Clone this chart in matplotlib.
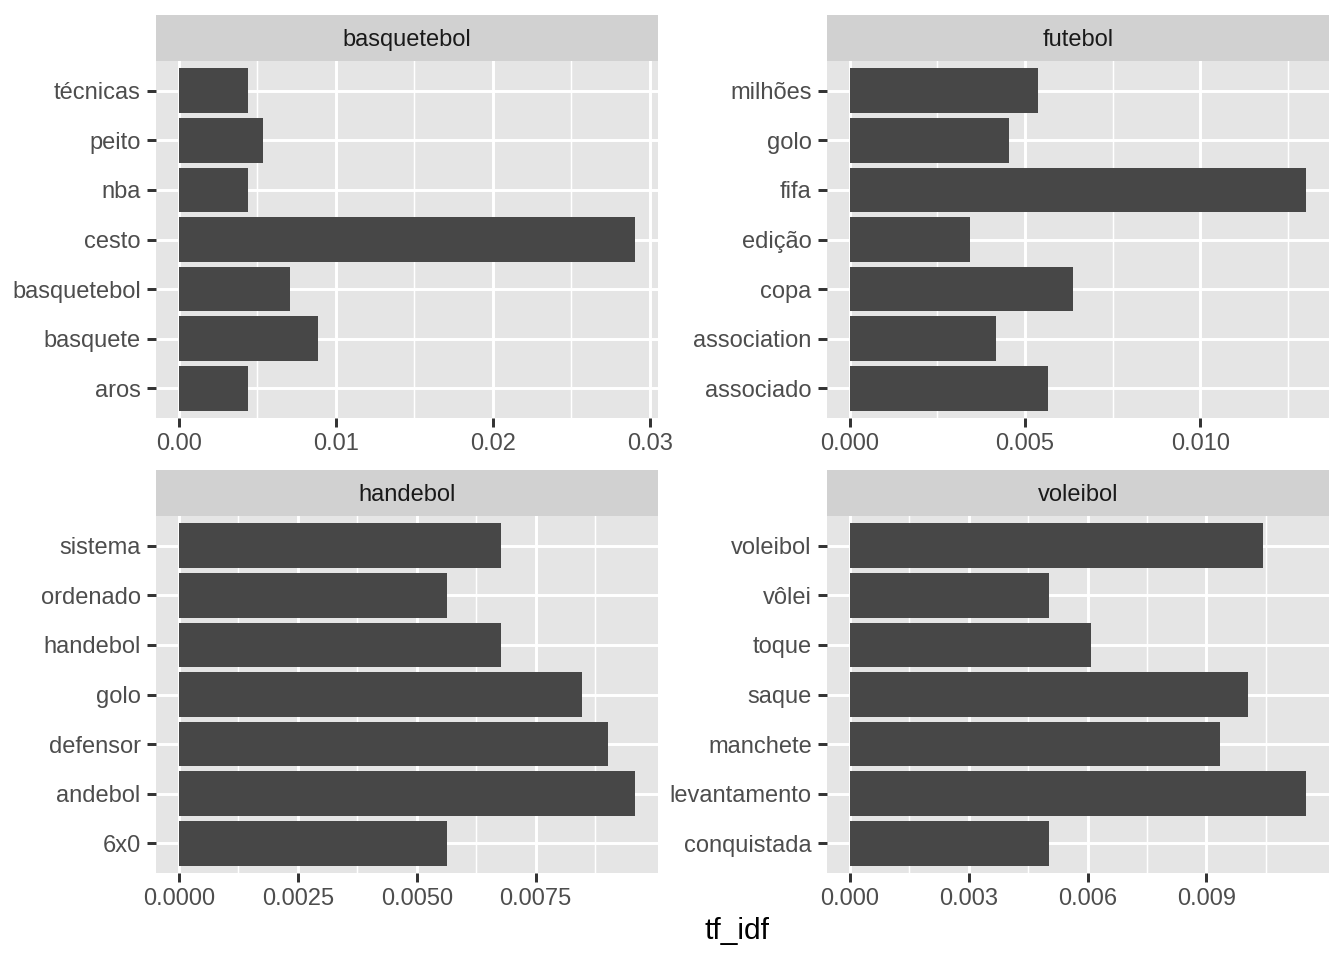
import matplotlib
matplotlib.use("Agg")
import matplotlib.pyplot as plt
import numpy as np

plt.rcParams['font.family'] = ['Liberation Sans', 'DejaVu Sans']

facets = ["basquetebol", "futebol", "handebol", "voleibol"]

basq_words = ["aros", "basquete", "basquetebol", "cesto", "nba", "peito", "técnicas"]
basq_vals = [0.00440, 0.00885, 0.00707, 0.02904, 0.00440, 0.00535, 0.00440]

fut_words = ["associado", "association", "copa", "edição", "fifa", "golo", "milhões"]
fut_vals = [0.00564, 0.00416, 0.00638, 0.00342, 0.01302, 0.00453, 0.00538]

hand_words = ["6x0", "andebol", "defensor", "golo", "handebol", "ordenado", "sistema"]
hand_vals = [0.00563, 0.00958, 0.00901, 0.00847, 0.00676, 0.00563, 0.00676]

vol_words = ["conquistada", "levantamento", "manchete", "saque", "toque", "vôlei", "voleibol"]
vol_vals = [0.00504, 0.01152, 0.00935, 0.01006, 0.00610, 0.00504, 0.01044]

basq_ticks = [0.0, 0.01, 0.02, 0.03]
basq_labels = ["0.00", "0.01", "0.02", "0.03"]
fut_ticks = [0.0, 0.005, 0.010]
fut_labels = ["0.000", "0.005", "0.010"]
hand_ticks = [0.0, 0.0025, 0.005, 0.0075]
hand_labels = ["0.0000", "0.0025", "0.0050", "0.0075"]
vol_ticks = [0.0, 0.003, 0.006, 0.009]
vol_labels = ["0.000", "0.003", "0.006", "0.009"]

x_title = "tf_idf"

W, H = 1344, 960
fig = plt.figure(figsize=(W / 200, H / 200), dpi=200)

left_x = (156 / W, 657.5 / W)
right_x = (827 / W, 1329 / W)
top_y = (1 - 418 / H, 1 - 61 / H, 1 - 15 / H)
bot_y = (1 - 873 / H, 1 - 516 / H, 1 - 470 / H)

panels = [
    (facets[0], basq_words, basq_vals, basq_ticks, basq_labels, left_x, top_y),
    (facets[1], fut_words, fut_vals, fut_ticks, fut_labels, right_x, top_y),
    (facets[2], hand_words, hand_vals, hand_ticks, hand_labels, left_x, bot_y),
    (facets[3], vol_words, vol_vals, vol_ticks, vol_labels, right_x, bot_y),
]

grid_major = 1.07
grid_minor = 0.53

for title, words, vals, ticks, labels, (x0, x1), (y0, y1, ys) in panels:
    ax = fig.add_axes([x0, y0, x1 - x0, y1 - y0])
    ax.set_facecolor("#E5E5E5")
    ypos = np.arange(len(words))
    ax.barh(ypos, vals, height=0.9, color="#474747", zorder=3)
    vmax = max(vals)
    ax.set_xlim(-0.05 * vmax, 1.05 * vmax)
    ax.set_ylim(-0.6, len(words) - 0.4)
    ax.set_xticks(ticks)
    ax.set_xticklabels(labels)
    step = ticks[1] - ticks[0]
    minors = []
    m = ticks[0] + step / 2
    while m <= 1.05 * vmax:
        minors.append(m)
        m += step
    for mv in minors:
        ax.axvline(mv, color="white", lw=grid_minor, zorder=1)
    for t in ticks:
        ax.axvline(t, color="white", lw=grid_major, zorder=1)
    for yv in ypos:
        ax.axhline(yv, color="white", lw=grid_major, zorder=1)
    ax.set_yticks(ypos)
    ax.set_yticklabels(words)
    for s in ax.spines.values():
        s.set_visible(False)
    ax.tick_params(axis="both", length=3.3, width=1.07, color="#333333",
                   labelcolor="#4D4D4D", labelsize=8.5, pad=2.2)
    sax = fig.add_axes([x0, y1, x1 - x0, ys - y1])
    sax.set_facecolor("#D1D1D1")
    sax.set_xticks([])
    sax.set_yticks([])
    for s in sax.spines.values():
        s.set_visible(False)
    sax.text(0.5, 0.45, title, ha="center", va="center", fontsize=8.5,
             color="#1A1A1A", transform=sax.transAxes)

fig.text(737 / W, 1 - 931 / H, x_title, ha="center", va="center", fontsize=10.8, color="black")

fig.savefig("out.png", dpi=200)
